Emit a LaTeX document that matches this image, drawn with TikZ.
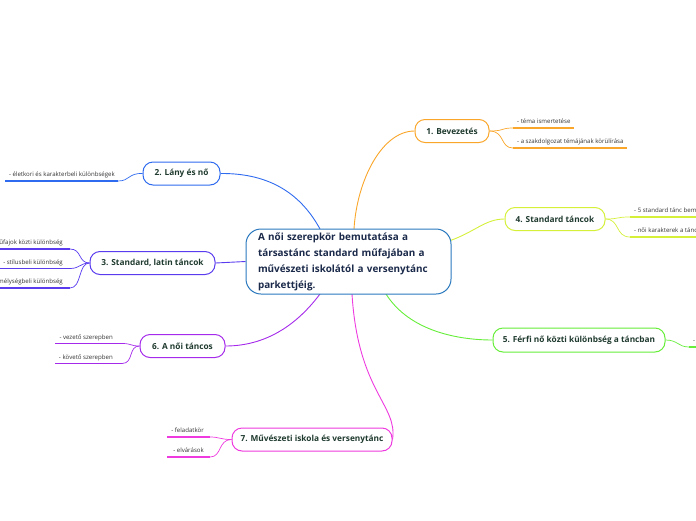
\documentclass[tikz,border=0pt]{standalone}
\usepackage{fontspec}
\setmainfont{Open Sans}
\usetikzlibrary{calc,backgrounds}
\definecolor{corange}{HTML}{F9A62A}
\definecolor{cblue}{HTML}{2F6BEF}
\definecolor{cindigo}{HTML}{5A3BEE}
\definecolor{cpurple}{HTML}{A52AEB}
\definecolor{cmagenta}{HTML}{EE3ADF}
\definecolor{cyellow}{HTML}{D6F03A}
\definecolor{cgreen}{HTML}{66EE3A}
\definecolor{ccenter}{HTML}{2A78BE}
\definecolor{subtext}{HTML}{1F3A2E}
\definecolor{centertext}{HTML}{1B2A4A}
\definecolor{leafgray}{HTML}{333333}
\tikzset{
  sub/.style={draw, rounded corners=10pt, line width=1pt, fill=white, inner sep=0pt,
    minimum height=23pt, text=subtext, font=\fontsize{8.3}{10}\selectfont\bfseries},
  leafR/.style={anchor=base west, inner sep=0pt, text=leafgray, font=\fontsize{6.1}{7}\selectfont},
  leafL/.style={anchor=base east, inner sep=0pt, text=leafgray, font=\fontsize{6.1}{7}\selectfont},
  uline/.style={line width=1.8pt},
  conn/.style={line width=0.9pt},
  fork/.style={line width=0.7pt}
}
\begin{document}
\begin{tikzpicture}[x=1pt,y=-1pt]
\useasboundingbox (0,0) rectangle (696,520);

\coordinate (c1) at (354,229);
\coordinate (c2) at (320,229);
\coordinate (c4) at (449,241);
\coordinate (c5) at (386,294);
\coordinate (c6) at (320,294);
\coordinate (c7) at (352,294);

% center node
\node[draw=ccenter, line width=1pt, rounded corners=15pt, fill=white,
      minimum width=205pt, minimum height=65pt, text width=181pt, align=left,
      inner sep=0pt, text=centertext, font=\fontsize{9.9}{16}\selectfont\bfseries]
  (c) at (348.5,261.5) {A női szerepkör bemutatása a\\társastánc standard műfajában a\\művészeti iskolától a versenytánc\\parkettjéig.};

% sub nodes
\node[sub, draw=corange, minimum width=74pt] (n1) at (452,131) {1. Bevezetés};
\node[sub, draw=cblue, minimum width=77pt] (n2) at (181.5,173.5) {2. Lány és nő};
\node[sub, draw=cindigo, minimum width=125pt] (n3) at (152.5,263) {3. Standard, latin táncok};
\node[sub, draw=cyellow, minimum width=100pt] (n4) at (555,219) {4. Standard táncok};
\node[sub, draw=cgreen, minimum width=172pt, minimum height=24pt] (n5) at (579,340) {5. Férfi nő közti különbség a táncban};
\node[sub, draw=cpurple, minimum width=85pt] (n6) at (182.5,346) {6. A női táncos};
\node[sub, draw=cmagenta, minimum width=160pt] (n7) at (312,439.5) {7. Művészeti iskola és versenytánc};

\begin{scope}[on background layer]
\draw[conn, corange] (c1) .. controls (357,180) and (382,131) .. (n1.west);
\draw[conn, cblue] (n2.east) .. controls (272,173) and (302,196) .. (c2);
\draw[conn, cindigo] (n3.east) -- (c.west);
\draw[conn, cyellow] (c4) .. controls (475,232) and (485,219) .. (n4.west);
\draw[conn, cgreen] (c5) .. controls (410,332) and (460,340) .. (n5.west);
\draw[conn, cpurple] (n6.east) .. controls (272,346) and (302,318) .. (c6);
\draw[conn, cmagenta] (c7) .. controls (358,392) and (398,405) .. (n7.east);
\end{scope}

% leaves of node 1
\coordinate (l1a) at (513,128); \coordinate (l1ae) at (574,128);
\coordinate (l1b) at (513,148); \coordinate (l1be) at (627,148);
\draw[fork, corange] (n1.east) .. controls (505,131) and (500,128) .. (l1a);
\draw[fork, corange] (n1.east) .. controls (505,131) and (500,148) .. (l1b);
\draw[uline, corange] (l1a) -- (l1ae);
\draw[uline, corange] (l1b) -- (l1be);
\node[leafR] (t1a) at (517,123.5) {- téma ismertetése};
\node[leafR] (t1b) at (517,143.5) {- a szakdolgozat témájának körülírása};

% leaf of node 2
\coordinate (l2a) at (118,181); \coordinate (l2ae) at (5,181);
\draw[fork, cblue] (n2.west) .. controls (128,173) and (130,181) .. (l2a);
\draw[uline, cblue] (l2a) -- (l2ae);
\node[leafL] (t2a) at (115,176.5) {- életkori és karakterbeli különbségek};

% leaves of node 3
\coordinate (l3a) at (70,249); \coordinate (l3ae) at (-2,249);
\coordinate (l3b) at (70,268.5); \coordinate (l3be) at (-2,268.5);
\coordinate (l3c) at (70,288); \coordinate (l3ce) at (-2,288);
\draw[fork, cindigo] (n3.west) .. controls (78,263) and (82,249) .. (l3a);
\draw[fork, cindigo] (n3.west) .. controls (80,263) and (80,268.5) .. (l3b);
\draw[fork, cindigo] (n3.west) .. controls (78,263) and (82,288) .. (l3c);
\draw[uline, cindigo] (l3a) -- (l3ae);
\draw[uline, cindigo] (l3b) -- (l3be);
\draw[uline, cindigo] (l3c) -- (l3ce);
\node[leafL] (t3a) at (63,244.5) {- műfajok közti különbség};
\node[leafL] (t3b) at (63,264) {- stílusbeli különbség};
\node[leafL] (t3c) at (63,283.5) {- mélységbeli különbség};

% leaves of node 4
\coordinate (l4a) at (630,217); \coordinate (l4ae) at (698,217);
\coordinate (l4b) at (630,237); \coordinate (l4be) at (698,237);
\draw[fork, cyellow] (n4.east) .. controls (620,219) and (615,217) .. (l4a);
\draw[fork, cyellow] (n4.east) .. controls (620,219) and (615,237) .. (l4b);
\draw[uline, cyellow] (l4a) -- (l4ae);
\draw[uline, cyellow] (l4b) -- (l4be);
\node[leafR] (t4a) at (634,212.5) {- 5 standard tánc bem};
\node[leafR] (t4b) at (634,232.5) {- női karakterek a tánc};

% leaf of node 5
\coordinate (l5a) at (689,347); \coordinate (l5ae) at (698,347);
\draw[fork, cgreen] (n5.east) .. controls (678,340) and (678,347) .. (l5a);
\draw[uline, cgreen] (l5a) -- (l5ae);
\node[leafR] (t5a) at (693,342.5) {-};

% leaves of node 6
\coordinate (l6a) at (122,343.5); \coordinate (l6ae) at (55,343.5);
\coordinate (l6b) at (122,363.5); \coordinate (l6be) at (55,363.5);
\draw[fork, cpurple] (n6.west) .. controls (130,346) and (132,343.5) .. (l6a);
\draw[fork, cpurple] (n6.west) .. controls (128,346) and (134,363.5) .. (l6b);
\draw[uline, cpurple] (l6a) -- (l6ae);
\draw[uline, cpurple] (l6b) -- (l6be);
\node[leafL] (t6a) at (113,339) {- vezető szerepben};
\node[leafL] (t6b) at (113,359) {- követő szerepben};

% leaves of node 7
\coordinate (l7a) at (210,437); \coordinate (l7ae) at (167,437);
\coordinate (l7b) at (210,457); \coordinate (l7be) at (167,457);
\draw[fork, cmagenta] (n7.west) .. controls (220,439.5) and (220,437) .. (l7a);
\draw[fork, cmagenta] (n7.west) .. controls (218,439.5) and (222,457) .. (l7b);
\draw[uline, cmagenta] (l7a) -- (l7ae);
\draw[uline, cmagenta] (l7b) -- (l7be);
\node[leafL] (t7a) at (204,432.5) {- feladatkör};
\node[leafL] (t7b) at (204,452.5) {- elvárások};
\end{tikzpicture}
\end{document}
